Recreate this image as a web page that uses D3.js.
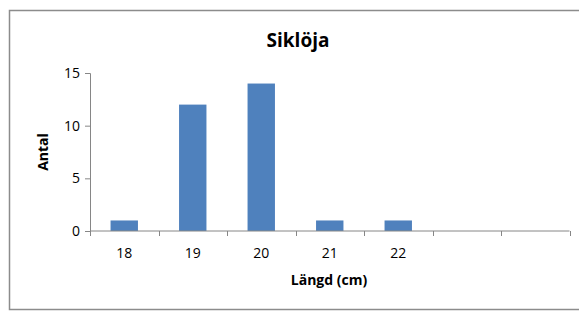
<!DOCTYPE html>
<html>
<head>
<meta charset="utf-8">
<script src="https://cdn.jsdelivr.net/npm/d3@7"></script>
<style>
  body { margin: 0; background: #fff; }
  svg { font-family: "Open Sans", sans-serif; }
</style>
</head>
<body>
<div id="chart"></div>
<script>
// data
const categories = ['18', '19', '20', '21', '22', '', ' '];
const counts = [1, 12, 14, 1, 1, null, null];
const yTicks = [0, 5, 10, 15];

const width = 579, height = 312;
const margin = { top: 73, right: 10, bottom: 81, left: 90 };

const svg = d3.select('#chart')
    .append('svg')
    .attr('width', width)
    .attr('height', height);

// outer chart frame
svg.append('rect')
    .attr('x', 9.5)
    .attr('y', 10.5)
    .attr('width', 580)
    .attr('height', 299)
    .attr('fill', 'none')
    .attr('stroke', '#8c8c8c')
    .attr('stroke-width', 1.5);

const plotW = 569.5 - margin.left;
const plotH = height - margin.top - margin.bottom;

const g = svg.append('g')
    .attr('transform', 'translate(' + margin.left + ',' + margin.top + ')');

const x = d3.scaleBand()
    .domain(categories)
    .range([0, plotW])
    .paddingInner(0.6)
    .paddingOuter(0.3);

const y = d3.scaleLinear()
    .domain([0, 15])
    .range([plotH, 0]);

g.selectAll('rect.bar')
    .data(categories.map((c, i) => ({ c: c, v: counts[i] })).filter(d => d.v != null))
    .enter()
    .append('rect')
    .attr('class', 'bar')
    .attr('x', d => x(d.c))
    .attr('y', d => y(d.v))
    .attr('width', x.bandwidth())
    .attr('height', d => plotH - y(d.v))
    .attr('fill', '#4f81bd');

// y axis
const yAxis = g.append('g')
    .call(d3.axisLeft(y).tickValues(yTicks).tickSize(5).tickPadding(5));
yAxis.select('.domain').attr('stroke', '#868686');
yAxis.selectAll('.tick line').attr('stroke', '#868686');
yAxis.selectAll('.tick text')
    .attr('font-size', 14)
    .attr('font-family', '"Open Sans", sans-serif')
    .attr('fill', '#000');

// x axis: ticks sit at category boundaries
const step = plotW / categories.length;
const xb = g.append('g').attr('transform', 'translate(0,' + plotH + ')');
xb.append('line')
    .attr('x1', 0).attr('x2', plotW)
    .attr('stroke', '#868686');
xb.selectAll('line.tk')
    .data(d3.range(categories.length + 1))
    .enter()
    .append('line')
    .attr('class', 'tk')
    .attr('x1', i => Math.round(i * step) + 0.5)
    .attr('x2', i => Math.round(i * step) + 0.5)
    .attr('y1', 0).attr('y2', 5)
    .attr('stroke', '#868686');
xb.selectAll('text')
    .data(categories)
    .enter()
    .append('text')
    .attr('x', d => x(d) + x.bandwidth() / 2)
    .attr('y', 27)
    .attr('text-anchor', 'middle')
    .attr('font-size', 14)
    .text(d => d.trim());

// titles
svg.append('text')
    .attr('x', 298)
    .attr('y', 47)
    .attr('text-anchor', 'middle')
    .attr('font-size', 19)
    .attr('font-weight', 'bold')
    .text('Siklöja');

svg.append('text')
    .attr('x', 329)
    .attr('y', 285)
    .attr('text-anchor', 'middle')
    .attr('font-size', 14)
    .attr('font-weight', 'bold')
    .text('Längd (cm)');

svg.append('text')
    .attr('transform', 'translate(48,152) rotate(-90)')
    .attr('text-anchor', 'middle')
    .attr('font-size', 14)
    .attr('font-weight', 'bold')
    .text('Antal');
</script>
</body>
</html>
